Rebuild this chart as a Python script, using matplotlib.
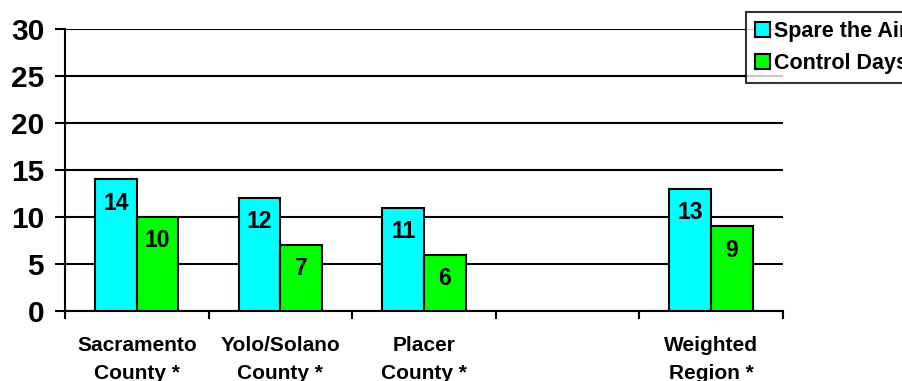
import matplotlib
matplotlib.use("Agg")
import matplotlib.pyplot as plt
import numpy as np

plt.rcParams['font.family'] = ['Liberation Sans', 'DejaVu Sans']
plt.rcParams['font.weight'] = 'bold'

# Survey results per area (the fourth slot is left empty)
categories = ["Sacramento\nCounty *", "Yolo/Solano\nCounty *", "Placer\nCounty *", "", "Weighted\nRegion *"]
spare_the_air = [14, 12, 11, None, 13]
control_days = [10, 7, 6, None, 9]
series_names = ["Spare the Air", "Control Days"]

fig = plt.figure(figsize=(9.03, 3.81), dpi=100)
ax = fig.add_axes([0.072, 0.1837, 0.795, 0.7402])

x = np.arange(len(categories))
w = 0.29

def draw_series(values, offset, color, name):
    xs = [xi + offset for xi, v in zip(x, values) if v is not None]
    vs = [v for v in values if v is not None]
    bars = ax.bar(xs, vs, width=w, color=color, edgecolor='black', linewidth=1.5,
                  label=name, zorder=3)
    for b, v in zip(bars, vs):
        ax.annotate(f"{v}", (b.get_x() + b.get_width() / 2, v), xytext=(0, -17),
                    textcoords='offset points', ha='center', va='center',
                    fontsize=16.5, fontweight='bold', zorder=4)
    return bars

draw_series(spare_the_air, -w / 2, '#00FFFF', series_names[0])
draw_series(control_days, w / 2, '#00FF00', series_names[1])

ax.set_xlim(-0.5, len(categories) - 0.5)
ax.set_ylim(0, 30)
ax.set_yticks(range(0, 31, 5))
ax.yaxis.grid(True, color='black', linewidth=1.5, zorder=0)
ax.set_axisbelow(True)

for s in ['top', 'right']:
    ax.spines[s].set_visible(False)
for s in ['left', 'bottom']:
    ax.spines[s].set_linewidth(1.5)

ax.tick_params(axis='y', length=7, width=1.5, pad=8, labelsize=21.5)
ax.set_xticks(x)
ax.set_xticklabels(categories, fontsize=15, fontweight='bold', linespacing=1.62)
ax.set_xticks(np.arange(-0.5, len(categories), 1.0), minor=True)
ax.tick_params(axis='x', which='major', length=0, pad=18)
ax.tick_params(axis='x', which='minor', length=6, width=1.5)
for lbl in ax.get_yticklabels():
    lbl.set_fontweight('bold')
ax.spines['left'].set_bounds(0, 30)

leg = fig.legend(loc='upper left', bbox_to_anchor=(746 / 903, 1 - 12 / 381),
                 fontsize=15.5, frameon=True, fancybox=False, edgecolor='black',
                 handlelength=0.7, handleheight=0.7, handletextpad=0.2,
                 borderpad=0.42, labelspacing=0.5, borderaxespad=0)
leg.get_frame().set_linewidth(1.5)
for t in leg.get_texts():
    t.set_fontweight('bold')

fig.savefig("out.png", dpi=100)
